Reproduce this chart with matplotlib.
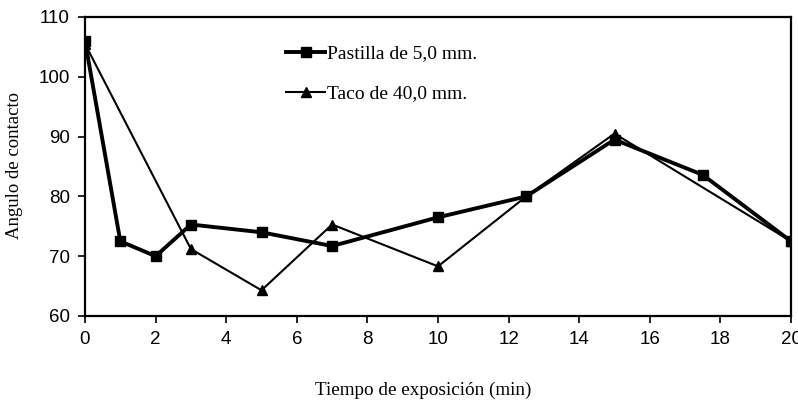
import matplotlib
matplotlib.use("Agg")
import matplotlib.pyplot as plt
from matplotlib.lines import Line2D

x_pastilla = [0, 1, 2, 3, 5, 7, 10, 12.5, 15, 17.5, 20]
y_pastilla = [106, 72.5, 70, 75.3, 74, 71.7, 76.5, 80, 89.5, 83.6, 72.5]
x_taco = [0, 3, 5, 7, 10, 12.5, 15, 20]
y_taco = [105.5, 71.2, 64.3, 75.3, 68.3, 80, 90.5, 72.5]
xticks = [0, 2, 4, 6, 8, 10, 12, 14, 16, 18, 20]
yticks = [60, 70, 80, 90, 100, 110]
label_pastilla = "Pastilla de 5,0 mm."
label_taco = "Taco de 40,0 mm."

fig = plt.figure(figsize=(7.98, 4.04), dpi=100)
ax = fig.add_axes([85/798, 1-316/404, (791-85)/798, (316-17)/404])

ax.plot(x_pastilla, y_pastilla, color="black", lw=2.8, marker="s", ms=7)
ax.plot(x_taco, y_taco, color="black", lw=1.5, marker="^", ms=7)

ax.set_xlim(0, 20)
ax.set_ylim(60, 110)
ax.set_xticks(xticks)
ax.set_yticks(yticks)
for lab in ax.get_xticklabels() + ax.get_yticklabels():
    lab.set_family("Liberation Sans")
    lab.set_fontsize(13.5)
ax.tick_params(direction="out", length=5, width=1.2, pad=6)
for s in ax.spines.values():
    s.set_linewidth(1.6)

fig.text(15/798, 1-166/404, "Angulo de contacto", family="Liberation Serif", fontsize=13.5,
         rotation=90, ha="center", va="center")
fig.text(423/798, 1-390/404, "Tiempo de exposición (min)", family="Liberation Serif",
         fontsize=13.8, ha="center", va="center")

handles = [Line2D([], [], color="black", lw=2.8, marker="s", ms=7),
           Line2D([], [], color="black", lw=1.5, marker="^", ms=7)]
ax.legend(handles, [label_pastilla, label_taco], loc="upper left",
          bbox_to_anchor=(0.26, 0.965), frameon=False, labelspacing=1.15,
          handlelength=2.0, handletextpad=0.1,
          prop={"family": "Liberation Serif", "size": 14})

fig.savefig("out.png", dpi=100)
